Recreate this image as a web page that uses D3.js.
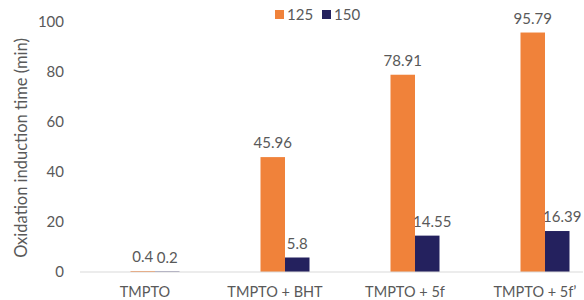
<!DOCTYPE html>
<html>
<head>
<meta charset="utf-8">
<script src="https://cdn.jsdelivr.net/npm/d3@7"></script>
<style>
  body { margin: 0; background: #fff; }
  text { font-family: Lato, "Liberation Sans", sans-serif; fill: #595959; }
</style>
</head>
<body>
<div id="viz"></div>
<script>
// data
var categories = ["TMPTO", "TMPTO + BHT", "TMPTO + 5f", "TMPTO + 5f\u2019"];
var series = ["125", "150"];
var values125 = [0.4, 45.96, 78.91, 95.79];
var values150 = [0.2, 5.8, 14.55, 16.39];
var yTicks = [0, 20, 40, 60, 80, 100];
var colors = ["#F0823A", "#24215E"];

var width = 584;
var height = 300;

var svg = d3.select('#viz').append('svg')
  .attr('width', width)
  .attr('height', height);

var x = d3.scaleBand().domain(categories).range([90, 610]);
var xInner = d3.scaleBand().domain(series).range([x.bandwidth() / 2 - 24.5, x.bandwidth() / 2 + 24.5]);
var y = d3.scaleLinear().domain([0, 100]).range([272, 22]);

// y tick labels
svg.append('g').selectAll('text')
  .data(yTicks)
  .enter().append('text')
  .attr('x', 64)
  .attr('y', function(d) { return y(d); })
  .attr('dy', '0.35em')
  .attr('text-anchor', 'end')
  .style('font-size', '15px')
  .text(function(d) { return d; });

// y title
svg.append('text')
  .attr('transform', 'translate(27,148) rotate(-90)')
  .attr('text-anchor', 'middle')
  .style('font-size', '16.5px')
  .text('Oxidation induction time (min)');

// bars
var rows = categories.map(function(c, i) {
  return { cat: c, vals: [{ s: "125", v: values125[i] }, { s: "150", v: values150[i] }] };
});

var groups = svg.append('g').selectAll('g')
  .data(rows)
  .enter().append('g')
  .attr('transform', function(d) { return 'translate(' + x(d.cat) + ',0)'; });

groups.selectAll('rect')
  .data(function(d) { return d.vals; })
  .enter().append('rect')
  .attr('x', function(d) { return xInner(d.s); })
  .attr('width', xInner.bandwidth())
  .attr('y', function(d) { return y(d.v); })
  .attr('height', function(d) { return y(0) - y(d.v); })
  .attr('fill', function(d, i) { return colors[i]; });

groups.selectAll('text')
  .data(function(d) { return d.vals; })
  .enter().append('text')
  .attr('x', function(d) { return xInner(d.s) + xInner.bandwidth() / 2 + (d.s === "150" && d.v > 10 ? 5 : 0); })
  .attr('y', function(d) { return y(d.v) - 9; })
  .attr('text-anchor', 'middle')
  .style('font-size', '15px')
  .text(function(d) { return d.v; });

// baseline
svg.append('line')
  .attr('x1', 80).attr('x2', 583)
  .attr('y1', y(0)).attr('y2', y(0))
  .attr('stroke', '#d9d9d9')
  .attr('stroke-width', 1.2);

// x labels
svg.append('g').selectAll('text')
  .data(categories)
  .enter().append('text')
  .attr('x', function(d) { return x(d) + x.bandwidth() / 2 - 10; })
  .attr('y', 297)
  .attr('text-anchor', 'middle')
  .style('font-size', '14.5px')
  .text(function(d) { return d; });

// legend
var legend = svg.append('g').attr('transform', 'translate(275,10)');
var lx = [0, 47];
series.forEach(function(s, i) {
  legend.append('rect')
    .attr('x', lx[i]).attr('y', 0)
    .attr('width', 9).attr('height', 9)
    .attr('fill', colors[i]);
  legend.append('text')
    .attr('x', lx[i] + 12).attr('y', 5)
    .attr('dy', '0.35em')
    .style('font-size', '15px')
    .text(s);
});
</script>
</body>
</html>
